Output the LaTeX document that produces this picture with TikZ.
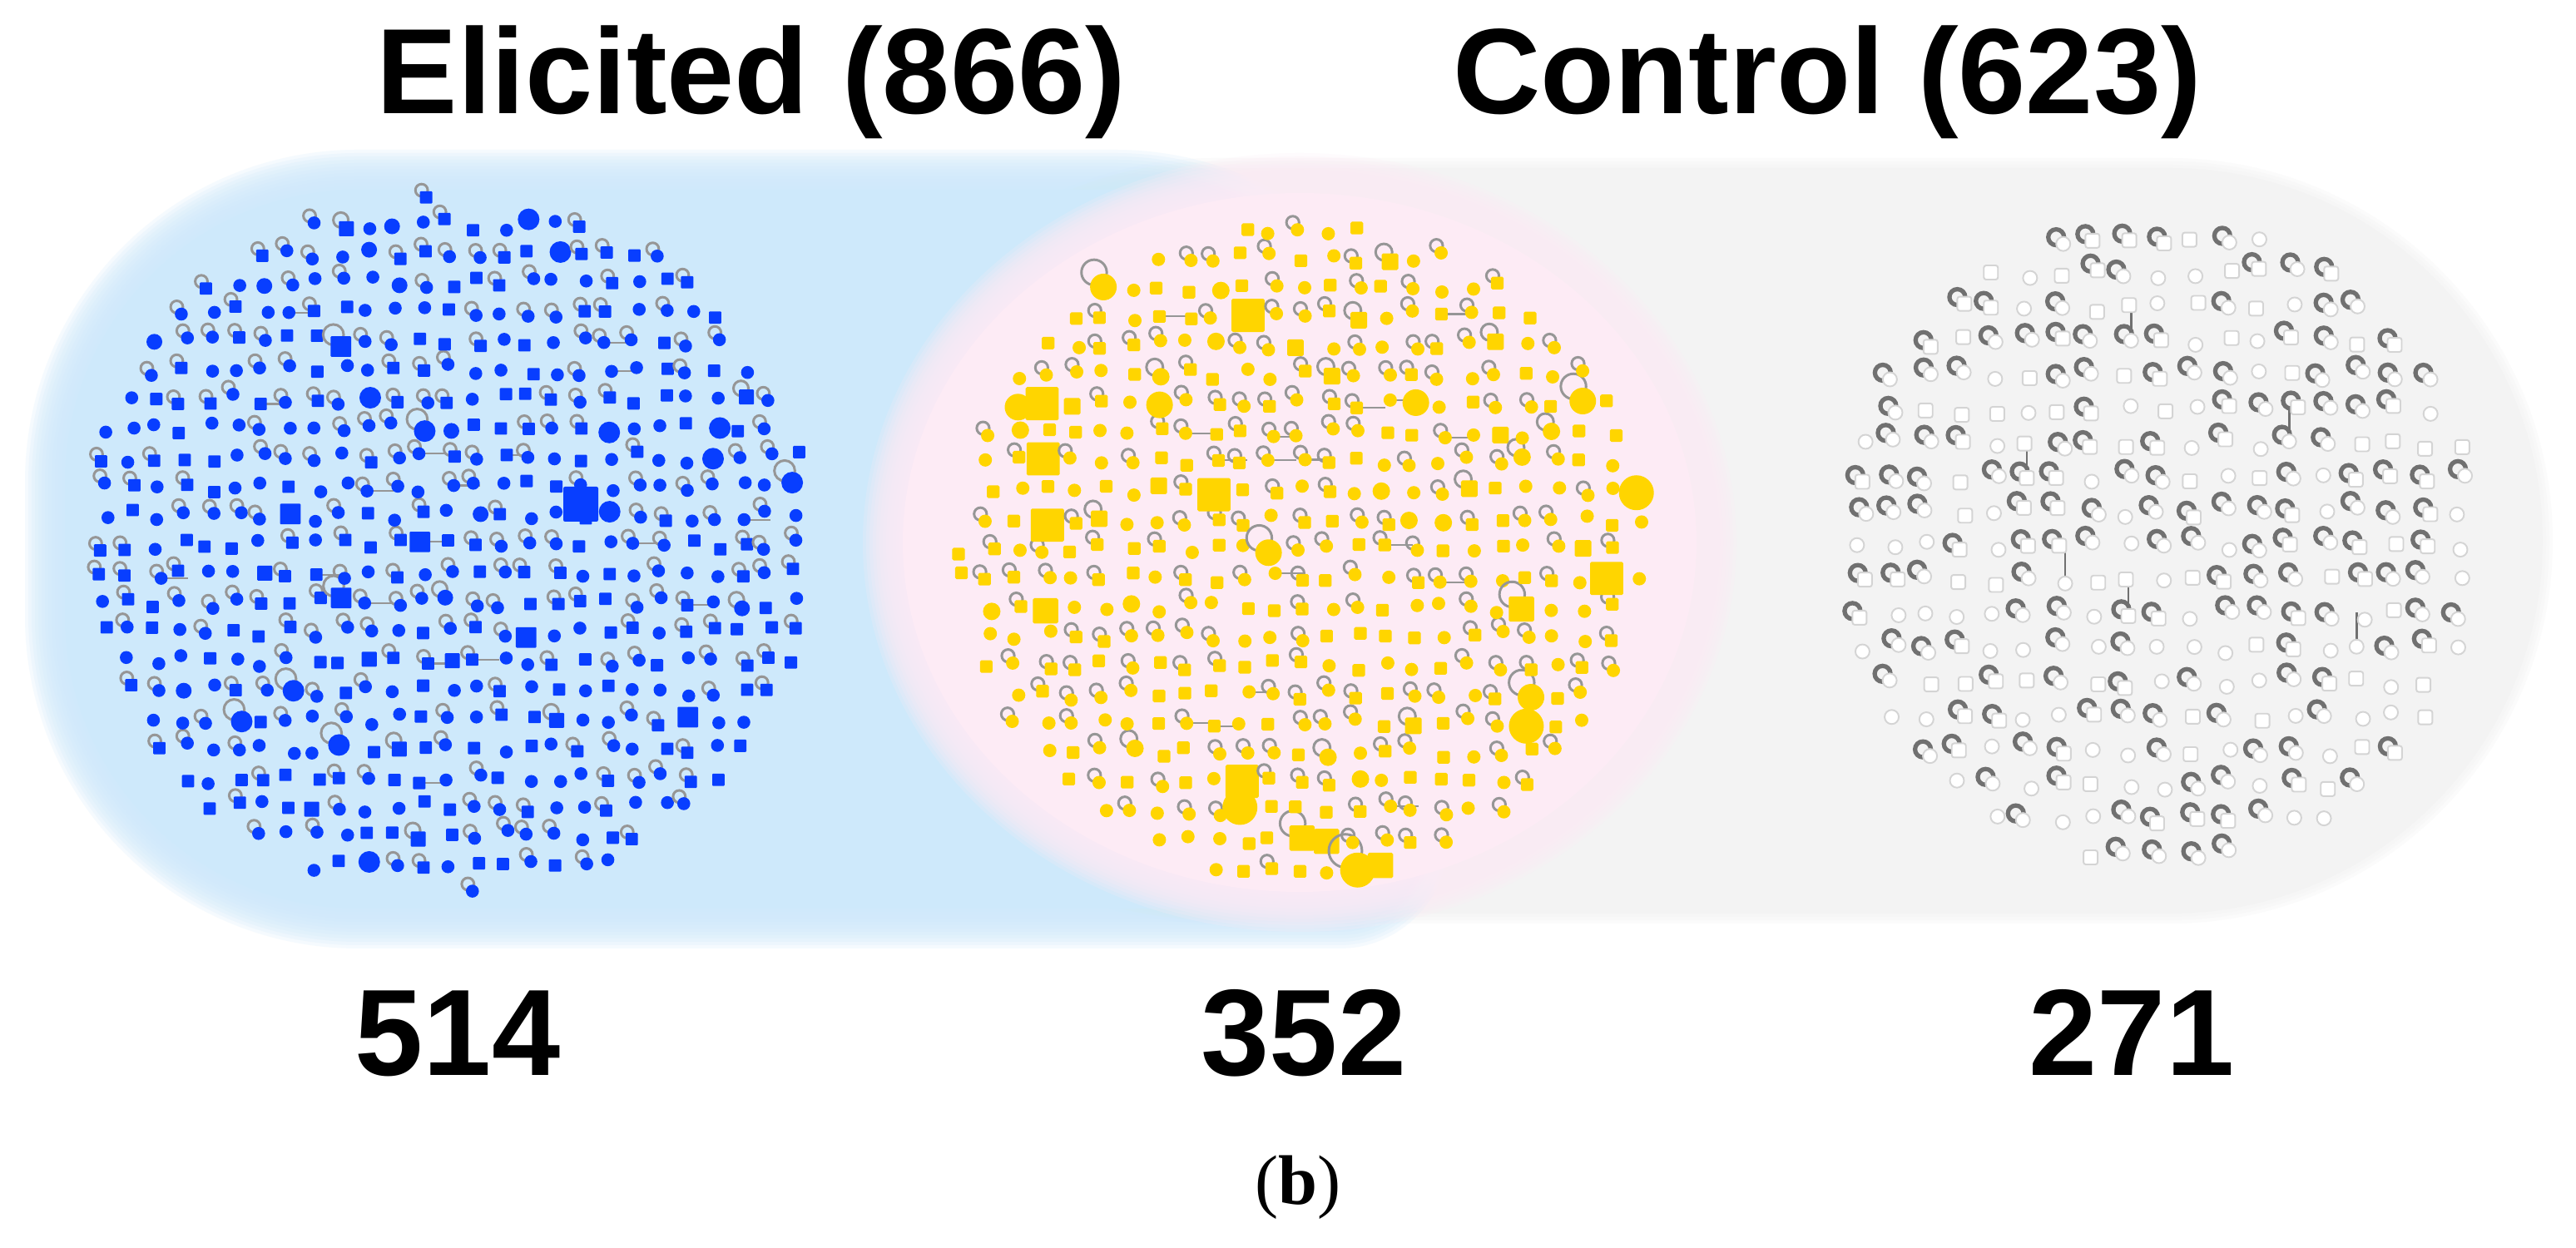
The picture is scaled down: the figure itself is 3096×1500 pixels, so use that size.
\documentclass[tikz,border=0pt]{standalone}
\usepackage{fontspec}
\setmainfont{Liberation Sans}
\newfontfamily\capfont{Liberation Serif}
\definecolor{bgblue}{RGB}{206,233,251}
\definecolor{bgpink}{RGB}{253,235,245}
\definecolor{bggrey}{RGB}{243,243,243}
\definecolor{nblue}{RGB}{8,62,255}
\definecolor{nyellow}{RGB}{255,213,0}
\definecolor{lgrey}{RGB}{150,150,150}
\definecolor{cloop}{RGB}{112,112,112}
\definecolor{cline}{RGB}{212,212,212}
\tikzset{
  lbl/.style={font=\fontsize{41.5pt}{48pt}\selectfont\bfseries, inner sep=0pt, anchor=base},
  numlbl/.style={font=\fontsize{42pt}{48pt}\selectfont\bfseries, inner sep=0pt, anchor=base},
  caplbl/.style={font=\capfont\fontsize{24pt}{28pt}\selectfont, inner sep=0pt, anchor=base},
  loopA/.style={draw=lgrey, line width=0.85pt},
  loopC/.style={draw=cloop, line width=1.5pt},
  edgeA/.style={draw=lgrey, line width=0.6pt},
  edgeC/.style={draw=cloop, line width=0.8pt},
  cnode/.style={fill=white, draw=cline, line width=0.55pt},
}
\newcommand\bluelayer[2]{%
  \pgfmathsetmacro\bxa{30+#1}\pgfmathsetmacro\bxb{1740-#1}%
  \pgfmathsetmacro\bya{360+#1}\pgfmathsetmacro\byb{1320-#1}%
  \pgfmathsetmacro\bR{400-#1}\pgfmathsetmacro\bs{130-#1}%
  \fill[bgblue,fill opacity=#2] (\bxa+\bR,\byb) -- (\bxb-\bR,\byb)
    arc[start angle=90,end angle=0,radius=\bR] -- (\bxb,\bya+\bs)
    arc[start angle=0,end angle=-90,radius=\bs] -- (\bxa+\bR,\bya)
    arc[start angle=270,end angle=180,radius=\bR] -- (\bxa,\byb-\bR)
    arc[start angle=180,end angle=90,radius=\bR] -- cycle;}
\newcommand\pinklayer[2]{%
  \fill[bgpink,fill opacity=#2] (1562,848) ellipse[x radius=525-#1, y radius=468-#1];}
\newcommand\greylayer[2]{%
  \pgfmathsetmacro\gcr{(460-#1)*0.01}%
  \fill[bggrey,fill opacity=#2,rounded corners=\gcr cm] (1000+#1,390+#1) rectangle (3068-#1,1310-#1);}
\newcommand\netgrid[1]{%
  \foreach \i in {-#1,...,#1}{%
    \foreach \j in {-#1,...,#1}{%
      \pgfmathsetmacro\npx{\ncx+\i*\ndx+(rnd-0.5)*\njx}%
      \pgfmathsetmacro\npy{\ncy+\j*\ndy+(rnd-0.5)*\njy}%
      \pgfmathsetmacro\ndd{((\npx-\ncx)/\nrx)^2+((\npy-\ncy)/\nry)^2}%
      \ifdim\ndd pt<1pt\relax\netnode\fi
    }%
  }%
}
\newcommand\bluenode{%
  \pgfmathsetmacro\qa{rnd}\pgfmathsetmacro\qb{rnd}\pgfmathsetmacro\qc{rnd}\pgfmathsetmacro\qe{rnd}%
  \pgfmathsetmacro\nr{\qc<0.03 ? 13 : (\qc<0.07 ? 9.5 : 7.8)}%
  \pgfmathsetmacro\qe{\ndd<0.7 ? \qe : 1}%
  \ifdim\qe pt<0.06pt\relax \draw[edgeA] (\npx,\npy) -- ++(\ndx,0);\fi
  \ifdim\qa pt<0.48pt\relax \draw[loopA] (\npx-0.7*\nr,\npy+1.1*\nr) circle[radius=0.95*\nr];\fi
  \ifdim\qb pt<0.42pt\relax
    \fill[nblue,rounded corners=0.3pt] (\npx-0.95*\nr,\npy-0.95*\nr) rectangle (\npx+0.95*\nr,\npy+0.95*\nr);%
  \else
    \fill[nblue] (\npx,\npy) circle[radius=\nr];%
  \fi
}
\newcommand\yellownode{%
  \pgfmathsetmacro\qa{rnd}\pgfmathsetmacro\qb{rnd}\pgfmathsetmacro\qc{rnd}\pgfmathsetmacro\qe{rnd}\pgfmathsetmacro\qf{rnd}%
  \pgfmathsetmacro\pbig{0.015+0.12*\ndd}%
  \pgfmathsetmacro\nr{\qc<\pbig ? (\qf<0.5 ? 21 : 16) : (\qc<\pbig+0.07 ? 10.5 : 8)}%
  \pgfmathsetmacro\qe{\ndd<0.7 ? \qe : 1}%
  \ifdim\qe pt<0.06pt\relax \draw[edgeA] (\npx,\npy) -- ++(\ndx,0);\fi
  \ifdim\qa pt<0.47pt\relax \draw[loopA] (\npx-0.7*\nr,\npy+1.1*\nr) circle[radius=0.95*\nr];\fi
  \ifdim\qb pt<0.45pt\relax
    \fill[nyellow,rounded corners=0.5pt] (\npx-0.95*\nr,\npy-0.95*\nr) rectangle (\npx+0.95*\nr,\npy+0.95*\nr);%
  \else
    \fill[nyellow] (\npx,\npy) circle[radius=\nr];%
  \fi
}
\newcommand\greynode{%
  \pgfmathsetmacro\qa{rnd}\pgfmathsetmacro\qb{rnd}\pgfmathsetmacro\qe{rnd}%
  \pgfmathsetmacro\qe{\ndd<0.7 ? \qe : 1}%
  \ifdim\qe pt<0.035pt\relax \draw[edgeC] (\npx,\npy) -- ++(0,\ndy);\fi
  \ifdim\qa pt<0.6pt\relax \draw[loopC] (\npx-8.5,\npy+8) circle[radius=9.5];\fi
  \ifdim\qb pt<0.42pt\relax
    \filldraw[cnode,rounded corners=0.8pt] (\npx-8.5,\npy-8.5) rectangle (\npx+8.5,\npy+8.5);%
  \else
    \filldraw[cnode] (\npx,\npy) circle[radius=8.5];%
  \fi
}
\begin{document}
\begin{tikzpicture}[x=0.01cm,y=0.01cm]
\useasboundingbox (0,0) rectangle (3096,1500);
\fill[white] (0,0) rectangle (3096,1500);
% background regions
\foreach \d in {0,4,8}{\greylayer{\d}{0.3}}
\greylayer{12}{1}
\foreach \d in {0,4,...,44}{\bluelayer{\d}{0.2}}
\bluelayer{48}{1}
\foreach \d in {0,4,...,44}{\pinklayer{\d}{0.2}}
\pinklayer{48}{1}
% blue network (Elicited only)
\def\ncx{540}\def\ncy{845}\def\nrx{440}\def\nry{422}
\def\ndx{32}\def\ndy{35}\def\njx{13}\def\njy{14}
\let\netnode\bluenode
\pgfmathsetseed{4711}
\netgrid{14}
\fill[nblue,rounded corners=0.6pt] (677,873) rectangle (719,915);
% yellow network (shared)
\def\ncx{1563}\def\ncy{840}\def\nrx{412}\def\nry{398}
\def\ndx{34}\def\ndy{35}\def\njx{13}\def\njy{13}
\let\netnode\yellownode
\pgfmathsetseed{2024}
\netgrid{13}
% grey network (Control only)
\def\ncx{2597}\def\ncy{843}\def\nrx{385}\def\nry{390}
\def\ndx{40}\def\ndy{41}\def\njx{12}\def\njy{12}
\let\netnode\greynode
\pgfmathsetseed{99}
\netgrid{10}
% labels
\node[lbl] (elic) at (903,1363) {Elicited (866)};
\node[lbl] (ctrl) at (2196,1363) {Control (623)};
\node[numlbl] (nA) at (550,207) {514};
\node[numlbl] (nB) at (1567,207) {352};
\node[numlbl] (nC) at (2562,207) {271};
\node[caplbl] (cap) at (1560,52) {(\textbf{b})};
\end{tikzpicture}
\end{document}
